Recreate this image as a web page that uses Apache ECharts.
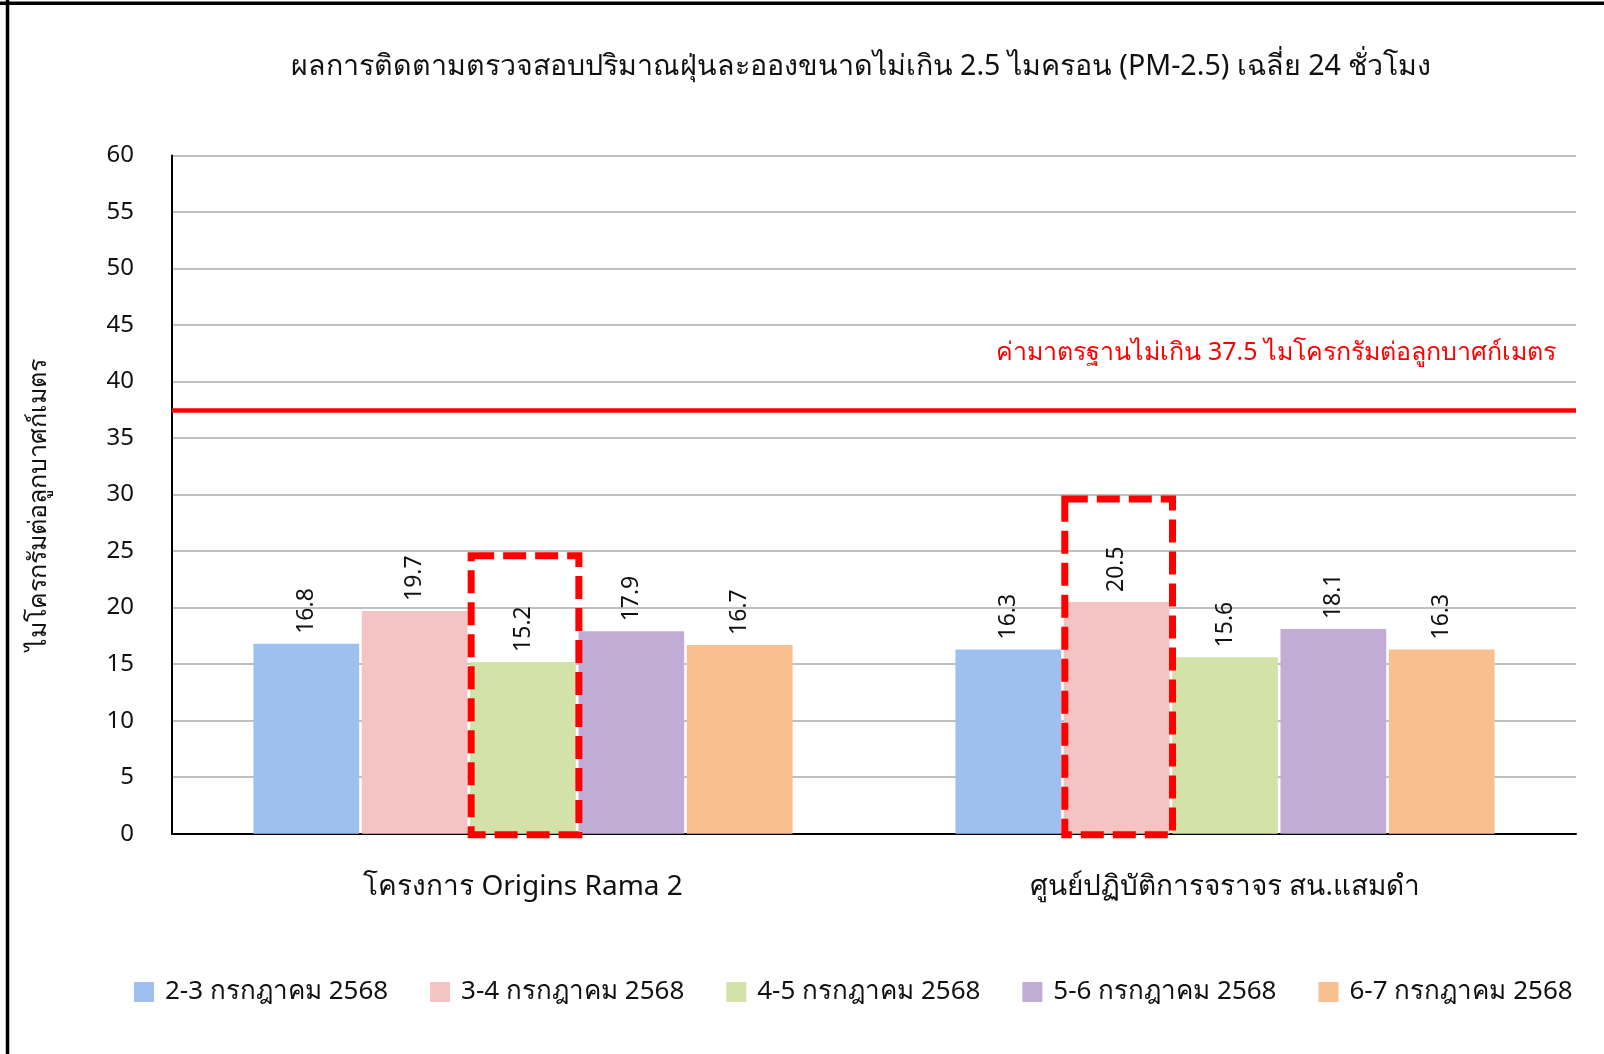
<!DOCTYPE html>
<html>
<head>
<meta charset="utf-8">
<title>PM-2.5</title>
<script src="https://cdn.jsdelivr.net/npm/echarts@6/dist/echarts.min.js"></script>
<style>
  html, body { margin: 0; padding: 0; background: #ffffff; }
  #chart { width: 1604px; height: 1054px; }
</style>
</head>
<body>
<div id="chart"></div>
<script>
// Monitoring sites (x categories)
const sites = ['โครงการ Origins Rama 2', 'ศูนย์ปฏิบัติการจราจร สน.แสมดำ'];

// Measurement periods (one bar series each)
const periods = [
  '2-3 กรกฎาคม 2568',
  '3-4 กรกฎาคม 2568',
  '4-5 กรกฎาคม 2568',
  '5-6 กรกฎาคม 2568',
  '6-7 กรกฎาคม 2568'
];

// 24-hour average PM-2.5 (µg/m³), per period, [Origins Rama 2, สน.แสมดำ]
const pm_2_3 = [16.8, 16.3];
const pm_3_4 = [19.7, 20.5];
const pm_4_5 = [15.2, 15.6];
const pm_5_6 = [17.9, 18.1];
const pm_6_7 = [16.7, 16.3];
const seriesValues = [pm_2_3, pm_3_4, pm_4_5, pm_5_6, pm_6_7];

const periodColors = ['#9dc0f0', '#f4c4c4', '#d2e2a8', '#c0acd4', '#f9bf8f'];

// Standard limit
const standardLimit = 37.5;
const standardLabel = 'ค่ามาตรฐานไม่เกิน 37.5 ไมโครกรัมต่อลูกบาศก์เมตร';

// Highlighted bars: [site index, period index, box top (µg/m³)]
const highlightSite = [0, 1];
const highlightPeriod = [2, 1];
const highlightTop = [24.6, 29.6];

// Y axis
const yMin = 0, yMax = 60, yStep = 5;

const titleText = 'ผลการติดตามตรวจสอบปริมาณฝุ่นละอองขนาดไม่เกิน 2.5 ไมครอน (PM-2.5) เฉลี่ย 24 ชั่วโมง';
const yName = 'ไมโครกรัมต่อลูกบาศก์เมตร';

const FONT = '"Noto Sans", "Open Sans", sans-serif';
const TEXT = '#111111';

const chart = echarts.init(document.getElementById('chart'), null, { renderer: 'canvas' });

const series = periods.map((name, i) => {
  const s = {
    name: name,
    type: 'bar',
    data: seriesValues[i],
    barGap: '2.5%',
    barCategoryGap: '23.2%',
    itemStyle: { color: periodColors[i] },
    label: {
      show: true,
      position: 'top',
      distance: 10,
      rotate: 90,
      align: 'left',
      verticalAlign: 'middle',
      fontFamily: FONT,
      fontSize: 23,
      color: TEXT,
      formatter: p => p.value.toFixed(1)
    },
    emphasis: { disabled: true },
    animation: false
  };
  if (i === 0) {
    s.markLine = {
      silent: true,
      symbol: 'none',
      lineStyle: { color: '#ff0000', width: 4.5, type: 'solid' },
      label: {
        show: true,
        position: 'insideEndTop',
        formatter: standardLabel,
        fontFamily: FONT,
        fontSize: 25,
        color: '#ff0000',
        distance: 0,
        padding: [0, 20, 44, 0]
      },
      data: [{ yAxis: standardLimit }],
      animation: false
    };
  }
  return s;
});

chart.setOption({
  animation: false,
  backgroundColor: '#ffffff',
  title: {
    text: titleText,
    left: 856,
    top: 47,
    textAlign: 'center',
    textStyle: { fontFamily: FONT, fontSize: 28.6, fontWeight: 'normal', color: TEXT }
  },
  legend: {
    data: periods,
    bottom: 44,
    left: 129,
    itemWidth: 20,
    itemHeight: 20,
    itemGap: 42,
    icon: 'rect',
    textStyle: { fontFamily: FONT, fontSize: 26, color: TEXT, padding: [0, 0, 0, 6] }
  },
  grid: { left: 172, right: 28, top: 155.5, bottom: 220.3 },
  xAxis: {
    type: 'category',
    data: sites,
    axisLine: { lineStyle: { color: '#000000', width: 2 } },
    axisTick: { show: false },
    axisLabel: { fontFamily: FONT, fontSize: 28, color: TEXT, margin: 39 }
  },
  yAxis: {
    type: 'value',
    min: yMin,
    max: yMax,
    interval: yStep,
    name: yName,
    nameLocation: 'middle',
    nameGap: 121,
    nameRotate: 90,
    nameTextStyle: { fontFamily: FONT, fontSize: 25, color: TEXT, padding: [0, 20, 0, 0] },
    axisLine: { show: true, lineStyle: { color: '#000000', width: 2 } },
    axisTick: { show: false },
    splitLine: { lineStyle: { color: '#c0c0c0', width: 2 } },
    axisLabel: { fontFamily: FONT, fontSize: 24, color: TEXT, margin: 38 }
  },
  series: series
});

// Dashed red boxes around the highlighted bars, sized from the bar layout
function drawHighlights() {
  const elements = [];
  const model = chart.getModel();
  for (let k = 0; k < highlightSite.length; k++) {
    const data = model.getSeriesByIndex(highlightPeriod[k]).getData();
    const lay = data.getItemLayout(highlightSite[k]);
    const yTop = chart.convertToPixel({ yAxisIndex: 0 }, highlightTop[k]);
    const yBase = chart.convertToPixel({ yAxisIndex: 0 }, yMin) + 1;
    elements.push({
      type: 'rect',
      z: 100,
      silent: true,
      shape: { x: lay.x + 1, y: yTop, width: lay.width + 2, height: yBase - yTop },
      style: { fill: 'none', stroke: '#ff0000', lineWidth: 7, lineDash: [23, 9] }
    });
  }
  // Outer frame (left and top edges)
  elements.push({
    type: 'line', silent: true, z: 100,
    shape: { x1: 7.5, y1: 0, x2: 7.5, y2: 1054 },
    style: { stroke: '#000000', lineWidth: 3.5 }
  });
  elements.push({
    type: 'line', silent: true, z: 100,
    shape: { x1: 0, y1: 3.3, x2: 1604, y2: 3.3 },
    style: { stroke: '#000000', lineWidth: 3.5 }
  });
  chart.setOption({ graphic: { elements: elements } });
}
drawHighlights();
</script>
</body>
</html>
